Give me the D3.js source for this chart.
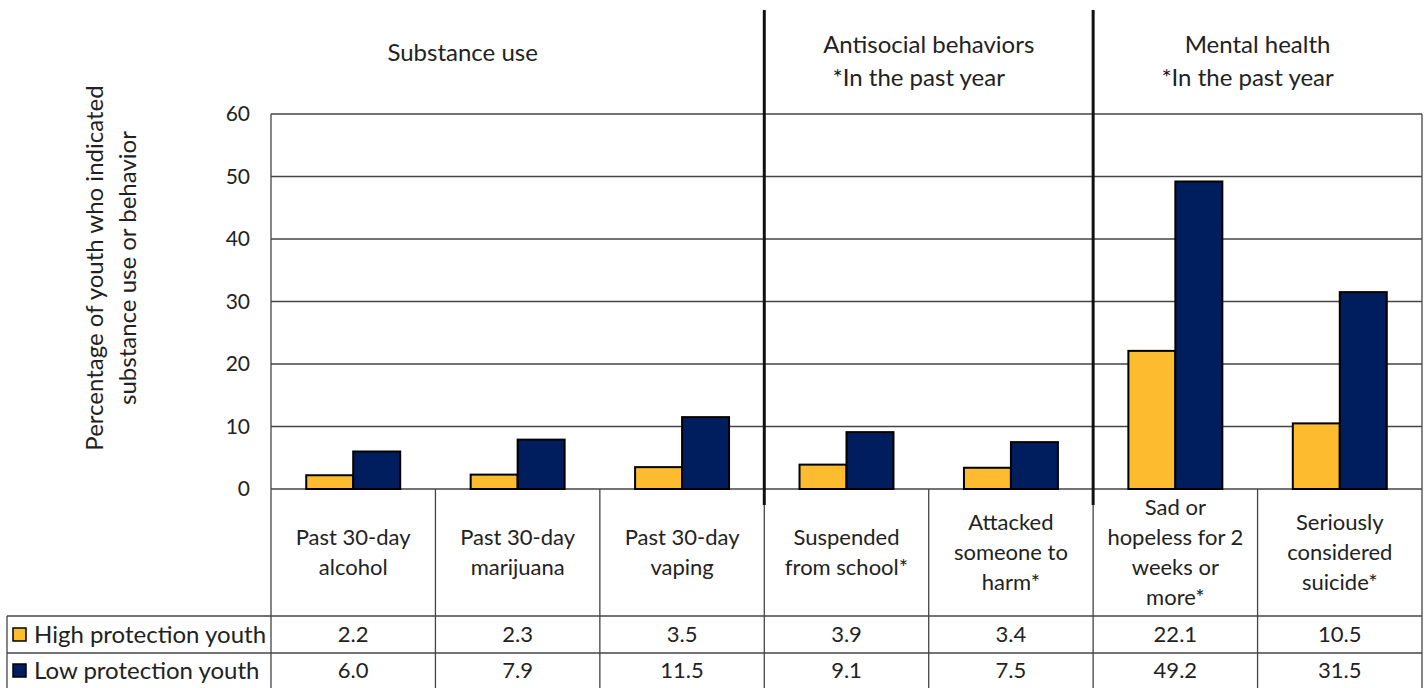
<!DOCTYPE html>
<html>
<head>
<meta charset="utf-8">
<script src="https://cdn.jsdelivr.net/npm/d3@7"></script>
<style>
  body { margin: 0; background: #fff; }
  svg text { font-family: Lato, "Open Sans", sans-serif; fill: #222; }
</style>
</head>
<body>
<div id="chart"></div>
<script>
// Chart data
const categories = [
  ["Past 30-day", "alcohol"],
  ["Past 30-day", "marijuana"],
  ["Past 30-day", "vaping"],
  ["Suspended", "from school*"],
  ["Attacked", "someone to", "harm*"],
  ["Sad or", "hopeless for 2", "weeks or", "more*"],
  ["Seriously", "considered", "suicide*"]
];
const seriesNames = ["High protection youth", "Low protection youth"];
const highValues = [2.2, 2.3, 3.5, 3.9, 3.4, 22.1, 10.5];
const lowValues = [6.0, 7.9, 11.5, 9.1, 7.5, 49.2, 31.5];
const yTicks = [0, 10, 20, 30, 40, 50, 60];
const groups = [
  { name: "Substance use", note: null, from: 0, to: 2 },
  { name: "Antisocial behaviors", note: "*In the past year", from: 3, to: 4 },
  { name: "Mental health", note: "*In the past year", from: 5, to: 6 }
];
const colors = ["#FDBB30", "#001E5E"];

// Dimensions
const width = 1426;
const height = 688;
const plotLeft = 271;
const plotRight = 1422;
const plotTop = 114;
const plotBottom = 489;
const tableLeft = 7;
const rowHigh = 616;
const rowLow = 653;
const tableBottom = 690;

const keys = categories.map((c, i) => "c" + i);
const values = [highValues, lowValues];

const x = d3.scaleBand()
  .domain(keys)
  .range([plotLeft, plotRight])
  .padding(0);

const xInner = d3.scaleBand()
  .domain(seriesNames)
  .range([0, x.bandwidth()])
  .paddingInner(0)
  .paddingOuter(0.75);

const y = d3.scaleLinear()
  .domain([0, 60])
  .range([plotBottom, plotTop]);

const svg = d3.select("#chart")
  .append("svg")
  .attr("width", width)
  .attr("height", height)
  .attr("viewBox", [0, 0, width, height]);

const gridColor = "#444";

// Gridlines
svg.append("g")
  .selectAll("line")
  .data(yTicks)
  .join("line")
  .attr("x1", plotLeft)
  .attr("x2", plotRight)
  .attr("y1", d => y(d))
  .attr("y2", d => y(d))
  .attr("stroke", gridColor)
  .attr("stroke-width", 1.3);

// Y axis
svg.append("g")
  .attr("transform", `translate(${plotLeft},0)`)
  .call(d3.axisLeft(y).tickValues(yTicks).tickSize(0).tickPadding(21))
  .call(g => g.select(".domain").remove())
  .call(g => g.selectAll("text")
    .style("font-size", "21px")
    .style("font-family", "Lato, 'Open Sans', sans-serif")
    .attr("fill", "#222"));

// Plot frame sides
svg.append("line")
  .attr("x1", plotLeft).attr("x2", plotLeft)
  .attr("y1", plotTop).attr("y2", tableBottom)
  .attr("stroke", gridColor).attr("stroke-width", 1.3);
svg.append("line")
  .attr("x1", plotRight).attr("x2", plotRight)
  .attr("y1", plotTop).attr("y2", tableBottom)
  .attr("stroke", gridColor).attr("stroke-width", 1.3);

// Bars
svg.append("g")
  .selectAll("g")
  .data(seriesNames)
  .join("g")
  .attr("fill", (d, i) => colors[i])
  .selectAll("rect")
  .data((s, si) => values[si].map((v, ci) => ({ s, v, k: keys[ci] })))
  .join("rect")
  .attr("x", d => x(d.k) + xInner(d.s))
  .attr("y", d => y(d.v))
  .attr("width", xInner.bandwidth())
  .attr("height", d => y(0) - y(d.v))
  .attr("stroke", "#000")
  .attr("stroke-width", 2);

// Data table: column lines
svg.append("g")
  .selectAll("line")
  .data(keys.slice(1))
  .join("line")
  .attr("x1", d => x(d)).attr("x2", d => x(d))
  .attr("y1", plotBottom).attr("y2", tableBottom)
  .attr("stroke", gridColor).attr("stroke-width", 1.3);

// Table row lines
svg.append("g")
  .selectAll("line")
  .data([rowHigh, rowLow])
  .join("line")
  .attr("x1", tableLeft).attr("x2", plotRight)
  .attr("y1", d => d).attr("y2", d => d)
  .attr("stroke", gridColor).attr("stroke-width", 1.3);
svg.append("line")
  .attr("x1", tableLeft).attr("x2", tableLeft)
  .attr("y1", rowHigh).attr("y2", tableBottom)
  .attr("stroke", gridColor).attr("stroke-width", 1.3);

// Category labels
const lineH = 30;
svg.append("g")
  .selectAll("text")
  .data(categories)
  .join("text")
  .attr("text-anchor", "middle")
  .style("font-size", "22px")
  .each(function(lines, i) {
    const cx = x(keys[i]) + x.bandwidth() / 2;
    const cy = (plotBottom + rowHigh) / 2;
    const top = cy - (lines.length - 1) * lineH / 2;
    d3.select(this).selectAll("tspan")
      .data(lines)
      .join("tspan")
      .attr("x", cx)
      .attr("y", (d, j) => top + j * lineH)
      .attr("dy", "0.35em")
      .text(d => d);
  });

// Value rows
const rowYs = [(rowHigh + rowLow) / 2, (rowLow + tableBottom) / 2 - 1];
values.forEach((vals, si) => {
  svg.append("g")
    .selectAll("text")
    .data(vals)
    .join("text")
    .attr("x", (d, i) => x(keys[i]) + x.bandwidth() / 2)
    .attr("y", rowYs[si])
    .attr("dy", "0.35em")
    .attr("text-anchor", "middle")
    .style("font-size", "22px")
    .text(d => d.toFixed(1));
});

// Legend keys inside table
const legend = svg.append("g")
  .selectAll("g")
  .data(seriesNames)
  .join("g")
  .attr("transform", (d, i) => `translate(${tableLeft + 6},${rowYs[i]})`);
legend.append("rect")
  .attr("x", 0).attr("y", -6.5)
  .attr("width", 13).attr("height", 13)
  .attr("fill", (d, i) => colors[i])
  .attr("stroke", "#000").attr("stroke-width", 1.5);
legend.append("text")
  .attr("x", 21)
  .attr("dy", "0.35em")
  .style("font-size", "24px")
  .text(d => d);

// Section dividers
svg.append("g")
  .selectAll("line")
  .data(groups.slice(1))
  .join("line")
  .attr("x1", d => x(keys[d.from])).attr("x2", d => x(keys[d.from]))
  .attr("y1", 10).attr("y2", 505)
  .attr("stroke", "#111").attr("stroke-width", 3);

// Section headings (first heading sits left of its span, as in the source)
const headX = d => (x(keys[d.from]) + x(keys[d.to]) + x.bandwidth()) / 2;
const heads = svg.append("g")
  .selectAll("g")
  .data(groups)
  .join("g");
heads.append("text")
  .attr("x", d => d.note ? headX(d) : headX(d) - 55)
  .attr("y", d => d.note ? 45 : 53)
  .attr("dy", "0.35em")
  .attr("text-anchor", "middle")
  .style("font-size", "24px")
  .text(d => d.name);
heads.filter(d => d.note)
  .append("text")
  .attr("x", d => headX(d) - 10)
  .attr("y", 78)
  .attr("dy", "0.35em")
  .attr("text-anchor", "middle")
  .style("font-size", "24px")
  .text(d => d.note);

// Y axis title
const yTitle = svg.append("text")
  .attr("transform", "translate(111,268) rotate(-90)")
  .attr("text-anchor", "middle")
  .style("font-size", "24px");
yTitle.append("tspan").attr("x", 0).attr("y", -8).text("Percentage of youth who indicated");
yTitle.append("tspan").attr("x", 0).attr("y", 25).text("substance use or behavior");
</script>
</body>
</html>
